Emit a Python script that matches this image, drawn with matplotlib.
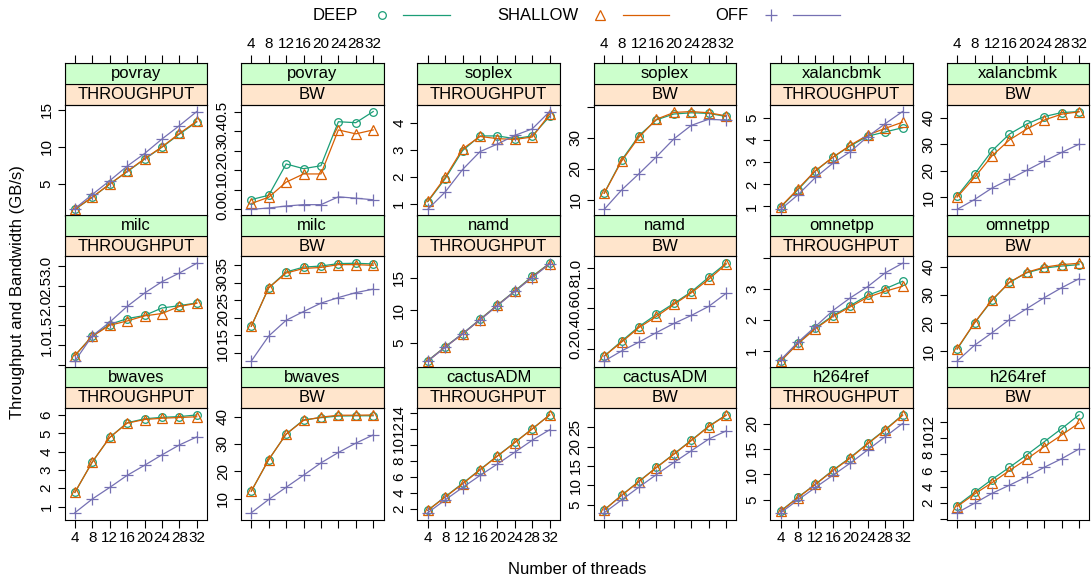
import numpy as np
import matplotlib
matplotlib.use("Agg")
import matplotlib.pyplot as plt
from matplotlib.patches import Rectangle
from matplotlib.lines import Line2D

plt.rcParams["font.family"] = ["Liberation Sans", "DejaVu Sans"]

# x axis: thread counts
threads = [4, 8, 12, 16, 20, 24, 28, 32]
modes = ["DEEP", "SHALLOW", "OFF"]

# values (GB/s)
povray_tp = {"DEEP": [1.6, 3.2, 5.0, 6.65, 8.35, 9.95, 11.7, 13.35],
             "SHALLOW": [1.6, 3.25, 5.0, 6.7, 8.4, 10.0, 11.8, 13.45],
             "OFF": [1.7, 3.6, 5.45, 7.4, 9.1, 11.05, 12.85, 14.75]}
povray_bw = {"DEEP": [0.05, 0.072, 0.232, 0.208, 0.223, 0.448, 0.443, 0.50],
             "SHALLOW": [0.03, 0.062, 0.139, 0.181, 0.181, 0.406, 0.386, 0.406],
             "OFF": [0.0, 0.007, 0.017, 0.024, 0.024, 0.064, 0.057, 0.049]}
soplex_tp = {"DEEP": [1.09, 1.94, 2.98, 3.52, 3.52, 3.42, 3.52, 4.24],
             "SHALLOW": [1.11, 1.99, 3.04, 3.5, 3.42, 3.39, 3.48, 4.32],
             "OFF": [0.81, 1.45, 2.28, 2.94, 3.22, 3.54, 3.78, 4.42]}
soplex_bw = {"DEEP": [12.1, 22.8, 30.8, 35.9, 37.8, 38.2, 38.0, 37.0],
             "SHALLOW": [12.0, 22.5, 30.3, 36.1, 38.3, 38.6, 38.2, 37.2],
             "OFF": [6.8, 13.1, 18.4, 23.9, 29.7, 34.1, 36.1, 35.8]}
xalancbmk_tp = {"DEEP": [0.97, 1.76, 2.6, 3.22, 3.73, 4.17, 4.36, 4.55],
                "SHALLOW": [0.99, 1.8, 2.62, 3.22, 3.76, 4.22, 4.52, 4.8],
                "OFF": [0.87, 1.53, 2.31, 2.95, 3.47, 4.15, 4.73, 5.28]}
xalancbmk_bw = {"DEEP": [10.5, 18.7, 27.5, 33.8, 37.6, 40.4, 41.9, 42.3],
                "SHALLOW": [10.1, 17.5, 25.6, 31.6, 35.7, 39.1, 41.3, 42.2],
                "OFF": [5.5, 9.2, 13.5, 16.8, 20.2, 23.6, 26.9, 30.0]}
milc_tp = {"DEEP": [0.73, 1.23, 1.52, 1.67, 1.75, 1.94, 2.0, 2.07],
           "SHALLOW": [0.73, 1.22, 1.5, 1.61, 1.74, 1.8, 1.98, 2.06],
           "OFF": [0.59, 1.23, 1.58, 1.98, 2.32, 2.61, 2.83, 3.08]}
milc_bw = {"DEEP": [17.6, 28.6, 33.1, 34.5, 34.8, 35.5, 35.6, 35.4],
           "SHALLOW": [17.6, 28.6, 32.8, 34.1, 34.4, 35.2, 35.2, 35.0],
           "OFF": [7.65, 14.8, 19.3, 21.8, 24.2, 25.8, 27.2, 28.2]}
namd_tp = {"DEEP": [2.25, 4.4, 6.4, 8.6, 10.8, 12.95, 15.2, 17.2],
           "SHALLOW": [2.2, 4.35, 6.35, 8.55, 10.75, 12.9, 15.1, 17.15],
           "OFF": [2.2, 4.3, 6.4, 8.5, 10.7, 12.9, 15.0, 17.1]}
namd_bw = {"DEEP": [0.125, 0.275, 0.42, 0.54, 0.65, 0.765, 0.91, 1.05],
           "SHALLOW": [0.125, 0.265, 0.41, 0.52, 0.64, 0.755, 0.89, 1.04],
           "OFF": [0.076, 0.177, 0.265, 0.36, 0.45, 0.53, 0.62, 0.75]}
omnetpp_tp = {"DEEP": [0.68, 1.26, 1.74, 2.14, 2.46, 2.79, 3.0, 3.24],
              "SHALLOW": [0.68, 1.24, 1.72, 2.11, 2.42, 2.73, 2.92, 3.08],
              "OFF": [0.72, 1.29, 1.79, 2.3, 2.71, 3.07, 3.51, 3.82]}
omnetpp_bw = {"DEEP": [10.7, 20.0, 28.0, 34.4, 37.8, 39.5, 40.2, 40.7],
              "SHALLOW": [10.9, 20.1, 28.2, 34.4, 38.0, 39.8, 40.7, 41.2],
              "OFF": [6.5, 12.1, 16.5, 21.2, 25.1, 28.95, 32.5, 35.7]}
bwaves_tp = {"DEEP": [1.77, 3.43, 4.77, 5.57, 5.79, 5.87, 5.91, 6.0],
             "SHALLOW": [1.77, 3.43, 4.77, 5.55, 5.75, 5.82, 5.86, 5.9],
             "OFF": [0.66, 1.41, 2.04, 2.7, 3.25, 3.82, 4.36, 4.8]}
bwaves_bw = {"DEEP": [12.8, 24.3, 33.6, 38.8, 39.6, 40.2, 40.3, 40.3],
             "SHALLOW": [12.8, 24.3, 33.6, 38.6, 39.8, 40.5, 40.5, 40.6],
             "OFF": [4.9, 9.75, 14.2, 18.6, 23.1, 26.9, 30.3, 33.3]}
cactusADM_tp = {"DEEP": [1.8, 3.5, 5.17, 6.88, 8.6, 10.27, 11.97, 13.7],
                "SHALLOW": [1.8, 3.45, 5.1, 6.85, 8.55, 10.25, 11.95, 13.7],
                "OFF": [1.5, 3.1, 4.65, 6.15, 7.58, 9.05, 10.55, 11.85]}
cactusADM_bw = {"DEEP": [3.74, 7.5, 11.1, 14.65, 18.1, 21.6, 25.2, 28.1],
                "SHALLOW": [3.7, 7.45, 11.0, 14.6, 18.0, 21.5, 25.1, 28.0],
                "OFF": [3.0, 6.3, 9.6, 12.8, 15.9, 18.9, 21.9, 24.0]}
h264ref_tp = {"DEEP": [2.75, 5.47, 8.04, 10.8, 13.3, 16.1, 18.8, 21.7],
              "SHALLOW": [2.7, 5.4, 8.0, 10.7, 13.2, 16.0, 18.7, 21.6],
              "OFF": [2.4, 4.95, 7.4, 9.8, 12.2, 14.8, 17.4, 20.0]}
h264ref_bw = {"DEEP": [1.67, 3.3, 4.9, 6.4, 7.95, 9.57, 11.2, 12.9],
              "SHALLOW": [1.55, 3.1, 4.5, 6.0, 7.43, 8.96, 10.4, 11.9],
              "OFF": [0.78, 1.96, 3.18, 4.19, 5.24, 6.41, 7.47, 8.68]}

# panel grid, row by row: (benchmark, metric, data)
panels = [
    [("povray", "THROUGHPUT", povray_tp), ("povray", "BW", povray_bw),
     ("soplex", "THROUGHPUT", soplex_tp), ("soplex", "BW", soplex_bw),
     ("xalancbmk", "THROUGHPUT", xalancbmk_tp), ("xalancbmk", "BW", xalancbmk_bw)],
    [("milc", "THROUGHPUT", milc_tp), ("milc", "BW", milc_bw),
     ("namd", "THROUGHPUT", namd_tp), ("namd", "BW", namd_bw),
     ("omnetpp", "THROUGHPUT", omnetpp_tp), ("omnetpp", "BW", omnetpp_bw)],
    [("bwaves", "THROUGHPUT", bwaves_tp), ("bwaves", "BW", bwaves_bw),
     ("cactusADM", "THROUGHPUT", cactusADM_tp), ("cactusADM", "BW", cactusADM_bw),
     ("h264ref", "THROUGHPUT", h264ref_tp), ("h264ref", "BW", h264ref_bw)],
]
# y tick spacing for each panel (same order)
ysteps = [[5, 0.1, 1, 10, 1, 10],
          [0.5, 5, 5, 0.2, 1, 10],
          [1, 10, 2, 5, 5, 2]]

colors = {"DEEP": "#1B9E77", "SHALLOW": "#D95F02", "OFF": "#7570B3"}
markers = {"DEEP": ("o", 5.5), "SHALLOW": ("^", 7.5), "OFF": ("+", 8.5)}

W, H = 1091, 583
fig = plt.figure(figsize=(W / 100, H / 100), dpi=100)


def box(x, y, w, h):
    # pixel box (top-left origin) -> figure fraction
    return [x / W, 1 - (y + h) / H, w / W, h / H]


x0, xpitch, pw = 64.5, 176.45, 142.6
y0, ypitch, ph = 104.7, 151.7, 111.5
sh = 20.7
xlim = (4 - 0.085 * 28, 32 + 0.085 * 28)
FS = 11

for r, row in enumerate(panels):
    for c, (bench, metric, data) in enumerate(row):
        px = x0 + c * xpitch
        py = y0 + r * ypitch
        ax = fig.add_axes(box(px, py, pw, ph))
        for m in modes:
            mk, ms = markers[m]
            ax.plot(threads, data[m], color=colors[m], lw=0.9, marker=mk, ms=ms,
                    mfc="none", mec=colors[m], mew=0.9)
        allv = np.concatenate([data[m] for m in modes])
        lo, hi = allv.min(), allv.max()
        pad = 0.07 * (hi - lo)
        ylo, yhi = lo - pad, hi + pad
        ax.set_ylim(ylo, yhi)
        ax.set_xlim(*xlim)

        step = ysteps[r][c]
        ticks = np.arange(np.ceil(ylo / step - 1e-9) * step, yhi + 1e-9, step)
        ticks = np.round(ticks[(ticks >= ylo) & (ticks <= yhi)], 6) + 0.0
        labels = []
        for t in ticks:
            near = min(t - ylo, yhi - t) < 0.033 * (yhi - ylo)
            if near:
                labels.append("")
            elif step < 1:
                labels.append("%.1f" % abs(t))
            else:
                labels.append("%d" % round(t))
        ax.set_yticks(ticks)
        ax.set_yticklabels(labels, rotation=90, va="center")
        ax.tick_params(axis="y", direction="out", length=5, width=0.8,
                       labelsize=FS, pad=3)

        ax.set_xticks(threads)
        if r == 2:
            ax.tick_params(axis="x", bottom=True, labelbottom=(c % 2 == 0),
                           direction="out", length=5.5, width=0.8, labelsize=FS, pad=3)
        else:
            ax.tick_params(axis="x", bottom=False, labelbottom=False)
        for s in ax.spines.values():
            s.set_linewidth(0.8)
            s.set_color("black")

        # strips: benchmark (green) on top of metric (peach)
        sax = fig.add_axes(box(px, py - 2 * sh, pw, 2 * sh))
        sax.set_xlim(*xlim)
        sax.set_ylim(0, 2)
        sax.add_patch(Rectangle((0, 0), 1, 0.5, transform=sax.transAxes,
                                fc="#FFE5CC", ec="black", lw=0.8))
        sax.add_patch(Rectangle((0, 0.5), 1, 0.5, transform=sax.transAxes,
                                fc="#CCFFCC", ec="black", lw=0.8))
        sax.text(0.5, 0.25, metric, transform=sax.transAxes, ha="center",
                 va="center", fontsize=12)
        sax.text(0.5, 0.75, bench, transform=sax.transAxes, ha="center",
                 va="center", fontsize=12)
        sax.set_yticks([])
        for s in sax.spines.values():
            s.set_linewidth(0.8)
        if r == 0:
            sax.set_xticks(threads)
            sax.tick_params(axis="x", top=True, labeltop=(c % 2 == 1),
                            bottom=False, labelbottom=False, direction="out",
                            length=5.5, width=0.8, labelsize=FS, pad=3)
        else:
            sax.set_xticks([])

# axis titles
fig.text(18 / W, 1 - 292 / H, "Throughput and Bandwidth (GB/s)", rotation=90,
         ha="center", va="center", fontsize=12)
fig.text(577 / W, 1 - 569 / H, "Number of threads", ha="center", va="center",
         fontsize=12)

# key at the top
key = [("DEEP", 313, 382, 403, 450),
       ("SHALLOW", 497, 600, 623, 669),
       ("OFF", 715, 771, 793, 840)]
ky = 1 - 15 / H
for m, tx, mx, l1, l2 in key:
    mk, ms = markers[m]
    fig.text(tx / W, ky, m, ha="left", va="center", fontsize=12)
    fig.add_artist(Line2D([mx / W], [ky], transform=fig.transFigure, marker=mk,
                          ms=ms, mfc="none", mec=colors[m], mew=0.9, ls="none"))
    fig.add_artist(Line2D([l1 / W, l2 / W], [ky, ky], transform=fig.transFigure,
                          color=colors[m], lw=0.9))

fig.savefig("out.png", dpi=100)
